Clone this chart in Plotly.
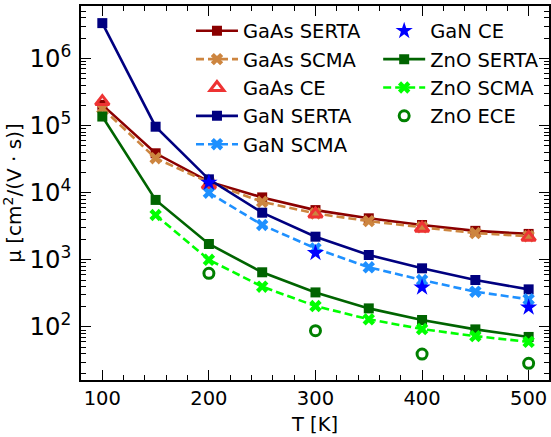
import plotly.graph_objects as go

T_all = [100, 150, 200, 250, 300, 350, 400, 450, 500]
T_scma_zno = [150, 200, 250, 300, 350, 400, 450, 500]
T_scma_gan = [200, 250, 300, 350, 400, 450, 500]
T_ce = [100, 200, 300, 400, 500]
T_ce_gan = [200, 300, 400, 500]
T_ece_zno = [200, 300, 400, 500]

gaas_serta = [2.03e5, 3.86e4, 1.46e4, 8.5e3, 5.5e3, 4.15e3, 3.3e3, 2.7e3, 2.43e3]
gaas_scma = [1.8e5, 3.26e4, 1.42e4, 7.3e3, 4.9e3, 3.77e3, 3.05e3, 2.5e3, 2.25e3]
gaas_ce = [2.27e5, 1.3e4, 4.8e3, 2.95e3, 2.16e3]
gan_serta = [3.35e6, 9.6e4, 1.58e4, 5.03e3, 2.21e3, 1.18e3, 747, 500, 363]
gan_scma = [1.0e4, 3.3e3, 1.48e3, 773, 500, 335, 258]
gan_ce = [1.41e4, 1.27e3, 389, 196]
zno_serta = [1.36e5, 7.8e3, 1.72e3, 652, 327, 189, 127, 92, 71]
zno_scma = [4.65e3, 1.0e3, 398, 205, 130, 93, 73, 60]
zno_ece = [630, 88, 39.5, 28.7]

x_ticks = [100, 200, 300, 400, 500]

fig = go.Figure()

def line_trace(x, y, name, color, symbol, dash, legend, msize=10):
    return go.Scatter(
        x=x, y=y, name=name, mode="lines+markers", legend=legend,
        line=dict(color=color, width=2.6, dash=dash),
        marker=dict(symbol=symbol, size=msize, color=color, line=dict(width=0)),
    )

def pt_trace(x, y, name, color, symbol, legend, size, lw):
    return go.Scatter(
        x=x, y=y, name=name, mode="markers", legend=legend,
        marker=dict(symbol=symbol, size=size, color=color, line=dict(color=color, width=lw)),
    )

fig.add_trace(line_trace(T_all, gaas_serta, "GaAs SERTA", "#8B0000", "square", "solid", "legend"))
fig.add_trace(line_trace(T_all, gaas_scma, "GaAs SCMA", "#CD853F", "x", "8px,4px", "legend", 11))
fig.add_trace(pt_trace(T_ce, gaas_ce, "GaAs CE", "#EE3333", "triangle-up-open", "legend", 12, 3))
fig.add_trace(line_trace(T_all, gan_serta, "GaN SERTA", "#000080", "square", "solid", "legend"))
fig.add_trace(line_trace(T_scma_gan, gan_scma, "GaN SCMA", "#1E90FF", "x", "8px,4px", "legend", 11))
fig.add_trace(pt_trace(T_ce_gan, gan_ce, "GaN CE", "#0000FF", "star", "legend2", 13, 0))
fig.add_trace(line_trace(T_all, zno_serta, "ZnO SERTA", "#006400", "square", "solid", "legend2"))
fig.add_trace(line_trace(T_scma_zno, zno_scma, "ZnO SCMA", "#00FF00", "x", "8px,4px", "legend2", 11))
fig.add_trace(pt_trace(T_ece_zno, zno_ece, "ZnO ECE", "#008000", "circle-open", "legend2", 10, 3))

font = "DejaVu Sans"
axis_common = dict(
    showline=True, linecolor="black", linewidth=1.5, mirror="ticks",
    ticks="inside", ticklen=10, tickwidth=1.3, tickcolor="black",
    showgrid=False, zeroline=False,
    tickfont=dict(family=font, size=19.5, color="black"),
)

fig.update_xaxes(
    range=[80, 519.1], tickvals=x_ticks,
    minor=dict(ticks="inside", ticklen=5, tickwidth=1.1, dtick=20, tick0=0, tickcolor="black", showgrid=False),
    title=dict(text="T [K]", font=dict(family=font, size=19.5, color="black"), standoff=8),
    **axis_common,
)
fig.update_yaxes(
    type="log", range=[1.21, 6.78], dtick=1, exponentformat="power", showexponent="all",
    minor=dict(ticks="inside", ticklen=5, tickwidth=1.1, tickcolor="black", showgrid=False),
    title=dict(text="μ [cm<sup>2</sup>/(V · s)]", font=dict(family=font, size=20, color="black"), standoff=6),
    ticklabelstandoff=4,
    **axis_common,
)

legend_common = dict(
    bgcolor="rgba(0,0,0,0)", borderwidth=0, itemwidth=42,
    font=dict(family=font, size=19.5, color="black"),
    yanchor="top", xanchor="left", tracegroupgap=0,
)
fig.update_layout(
    width=551, height=437,
    margin=dict(l=81, r=0, t=6, b=57),
    paper_bgcolor="white", plot_bgcolor="white",
    showlegend=True,
    legend=dict(x=0.235, y=0.985, **legend_common),
    legend2=dict(x=0.635, y=0.985, **legend_common),
)

fig.write_html("out.html")
